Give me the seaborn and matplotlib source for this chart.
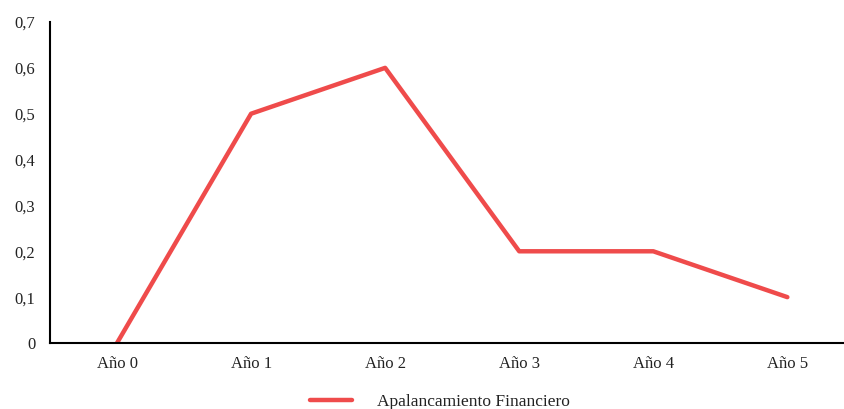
import matplotlib
matplotlib.use("Agg")
import matplotlib.pyplot as plt
import seaborn as sns
import pandas as pd
from matplotlib.ticker import FuncFormatter

categories = ["Año 0", "Año 1", "Año 2", "Año 3", "Año 4", "Año 5"]
values = [0.0, 0.5, 0.6, 0.2, 0.2, 0.1]
series_name = "Apalancamiento Financiero"

df = pd.DataFrame({"x": categories, "y": values, "s": series_name})

sns.set_theme(style="white")
plt.rcParams["font.family"] = ["Liberation Serif", "DejaVu Serif"]

fig = plt.figure(figsize=(8.45, 4.09), dpi=100)
ax = fig.add_axes([50/845, (409-343)/409, 795/845, (343-22)/409])

sns.lineplot(data=df, x="x", y="y", hue="s", palette=["#EF4B4B"], linewidth=3.2,
             ax=ax, sort=False)

ax.set_ylim(0, 0.7)
ax.set_xlim(-0.5, 5.43)
ax.set_yticks([0, 0.1, 0.2, 0.3, 0.4, 0.5, 0.6, 0.7])
ax.yaxis.set_major_formatter(FuncFormatter(lambda v, p: "0" if v == 0 else f"{v:.1f}".replace(".", ",")))
ax.set_xlabel("")
ax.set_ylabel("")
ax.tick_params(axis="both", length=0, labelsize=12, colors="#222222")
ax.tick_params(axis="x", pad=9)
ax.tick_params(axis="y", pad=10.5)
for s in ["top", "right"]:
    ax.spines[s].set_visible(False)
for s in ["left", "bottom"]:
    ax.spines[s].set_color("black")
    ax.spines[s].set_linewidth(1.5)

leg = ax.legend(loc="center", bbox_to_anchor=(440/845, 1 - 402/409), bbox_transform=fig.transFigure,
                frameon=False, fontsize=12.5, handlelength=2.4, handletextpad=1.45)
for t in leg.get_texts():
    t.set_color("#222222")

fig.savefig("out.png", dpi=100)
